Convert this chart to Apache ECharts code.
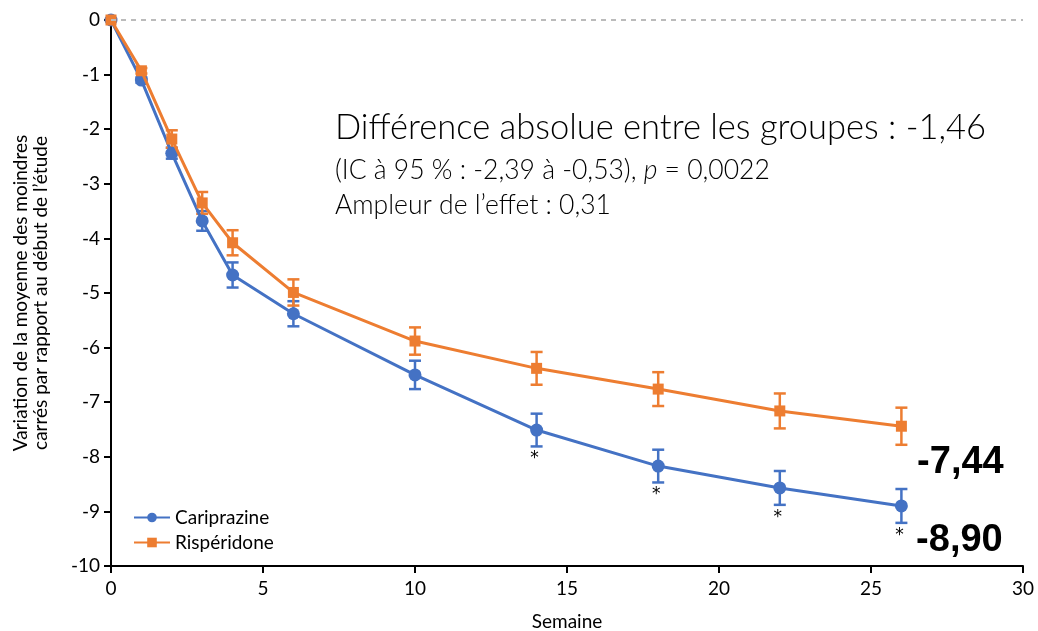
<!DOCTYPE html>
<html>
<head>
<meta charset="utf-8">
<script src="https://cdn.jsdelivr.net/npm/echarts@6/dist/echarts.min.js"></script>
<style>html,body{margin:0;background:#fff}#main{width:1038px;height:631px}</style>
</head>
<body>
<div id="main"></div>
<script>
// valeurs
const weeks = [0, 1, 2, 3, 4, 6, 10, 14, 18, 22, 26];
const cariprazine = [0, -1.10, -2.44, -3.68, -4.67, -5.38, -6.50, -7.51, -8.17, -8.57, -8.90];
const cariprazineErr = [0, 0.05, 0.10, 0.18, 0.23, 0.23, 0.26, 0.30, 0.30, 0.31, 0.31];
const risperidone = [0, -0.93, -2.18, -3.35, -4.08, -4.99, -5.88, -6.38, -6.76, -7.16, -7.44];
const risperidoneErr = [0, 0.05, 0.16, 0.20, 0.23, 0.24, 0.25, 0.30, 0.31, 0.32, 0.34];
const sigWeeks = [14, 18, 22, 26];
const xTicks = [0, 5, 10, 15, 20, 25, 30];
const yTicks = [0, -1, -2, -3, -4, -5, -6, -7, -8, -9, -10];

const BLUE = '#4472C4';
const ORANGE = '#ED7D31';
const FONT = 'Lato';

const chart = echarts.init(document.getElementById('main'));

function errorBars(color, withStars) {
  return function (params, api) {
    const x = api.value(0), y = api.value(1), e = api.value(2);
    const top = api.coord([x, y + e]);
    const bot = api.coord([x, y - e]);
    const hw = 6;
    const style = { stroke: color, lineWidth: 2.5 };
    const children = [
      { type: 'line', shape: { x1: top[0], y1: top[1], x2: bot[0], y2: bot[1] }, style: style },
      { type: 'line', shape: { x1: top[0] - hw, y1: top[1], x2: top[0] + hw, y2: top[1] }, style: style },
      { type: 'line', shape: { x1: bot[0] - hw, y1: bot[1], x2: bot[0] + hw, y2: bot[1] }, style: style }
    ];
    if (withStars && sigWeeks.indexOf(x) >= 0) {
      children.push({
        type: 'text',
        style: { text: '*', x: bot[0] - 2, y: bot[1] + 4, align: 'center', verticalAlign: 'top',
          fontSize: 17, fontFamily: 'DejaVu Sans', fill: '#000' }
      });
    }
    return { type: 'group', children: children };
  };
}

function lastLabel(offset) {
  return {
    show: true,
    position: 'inside',
    offset: offset,
    fontSize: 38,
    fontWeight: 'bold',
    fontFamily: 'Liberation Sans',
    color: '#000',
    formatter: function (p) {
      return p.dataIndex === weeks.length - 1 ? p.value[1].toFixed(2).replace('.', ',') : '';
    }
  };
}

const option = {
  animation: false,
  grid: { left: 111, right: 15, top: 20, bottom: 65, outerBoundsMode: 'none' },
  legend: {
    left: 128, top: 503, orient: 'vertical', itemWidth: 36, itemHeight: 12, itemGap: 6,
    textStyle: { fontSize: 19, fontFamily: FONT, color: '#000' },
    data: ['Cariprazine', 'Rispéridone']
  },
  xAxis: {
    type: 'value', min: 0, max: 30, interval: 5,
    name: 'Semaine', nameLocation: 'middle', nameGap: 46,
    nameTextStyle: { fontSize: 19, fontFamily: FONT, color: '#000' },
    axisLine: { onZero: false, lineStyle: { color: '#000', width: 2 } },
    axisTick: { length: 7, lineStyle: { color: '#000', width: 2 } },
    axisLabel: { fontSize: 19, fontFamily: FONT, color: '#000', margin: 13,
      formatter: v => xTicks.indexOf(v) >= 0 ? String(v) : '' },
    splitLine: { show: false }
  },
  yAxis: {
    type: 'value', min: -10, max: 0, interval: 1,
    name: 'Variation de la moyenne des moindres\ncarrés par rapport au début de l\u2019étude',
    nameLocation: 'middle', nameGap: 60,
    nameTextStyle: { fontSize: 19, fontFamily: FONT, color: '#000', lineHeight: 20 },
    axisLine: { onZero: false, lineStyle: { color: '#000', width: 2 } },
    axisTick: { length: 7, lineStyle: { color: '#000', width: 2 } },
    axisLabel: { fontSize: 19, fontFamily: FONT, color: '#000', margin: 11,
      formatter: v => yTicks.indexOf(v) >= 0 ? String(v) : '' },
    splitLine: { show: false }
  },
  graphic: [
    { type: 'text', left: 335, top: 110,
      style: { text: 'Différence absolue entre les groupes : -1,46', fontSize: 34.5, fontFamily: FONT, fontWeight: 300, fill: '#000' } },
    { type: 'text', left: 335, top: 157,
      style: { text: '{n|(IC à 95 % : -2,39 à -0,53), }{i|p}{n| = 0,0022}',
        rich: { n: { fontSize: 26.5, fontFamily: FONT, fontWeight: 300, fill: '#000' },
                i: { fontSize: 26.5, fontFamily: FONT, fontWeight: 300, fontStyle: 'italic', fill: '#000' } } } },
    { type: 'text', left: 335, top: 192,
      style: { text: 'Ampleur de l\u2019effet : 0,31', fontSize: 26.5, fontFamily: FONT, fontWeight: 300, fill: '#000' } }
  ],
  series: [
    {
      type: 'custom', name: 'errC', renderItem: errorBars(BLUE, true), z: 1,
      data: weeks.map((w, i) => [w, cariprazine[i], cariprazineErr[i]])
    },
    {
      type: 'custom', name: 'errR', renderItem: errorBars(ORANGE, false), z: 1,
      data: weeks.map((w, i) => [w, risperidone[i], risperidoneErr[i]])
    },
    {
      name: 'Cariprazine', type: 'line', z: 3,
      symbol: 'circle', symbolSize: 13,
      lineStyle: { color: BLUE, width: 3 }, itemStyle: { color: BLUE },
      label: lastLabel([58, 35]),
      data: weeks.map((w, i) => [w, cariprazine[i]]),
      markLine: {
        silent: true, symbol: 'none', label: { show: false },
        lineStyle: { color: '#bbb', type: [5, 5], width: 2 },
        data: [{ yAxis: 0 }]
      }
    },
    {
      name: 'Rispéridone', type: 'line', z: 4,
      symbol: 'rect', symbolSize: 11,
      lineStyle: { color: ORANGE, width: 3 }, itemStyle: { color: ORANGE },
      label: lastLabel([59, 36]),
      data: weeks.map((w, i) => [w, risperidone[i]])
    }
  ]
};

chart.setOption(option);
</script>
</body>
</html>
